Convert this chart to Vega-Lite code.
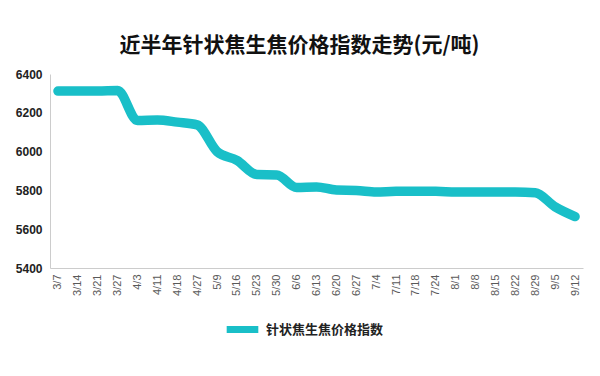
{
  "$schema": "https://vega.github.io/schema/vega-lite/v6.json",
  "autosize": "none",
  "width": 533,
  "height": 194,
  "padding": {"left": 50, "top": 74, "right": 17, "bottom": 108},
  "background": "white",
  "title": {
    "text": "近半年针状焦生焦价格指数走势(元/吨)",
    "font": "Noto Sans CJK SC",
    "fontSize": 21,
    "fontWeight": "bold",
    "color": "#111111",
    "anchor": "middle",
    "dx": -17,
    "offset": 12
  },
  "data": {
    "values": [
      {"date": "3/7", "value": 6312, "series": "针状焦生焦价格指数"},
      {"date": "3/14", "value": 6312, "series": "针状焦生焦价格指数"},
      {"date": "3/21", "value": 6312, "series": "针状焦生焦价格指数"},
      {"date": "3/27", "value": 6315, "series": "针状焦生焦价格指数"},
      {"date": "4/3", "value": 6160, "series": "针状焦生焦价格指数"},
      {"date": "4/11", "value": 6163, "series": "针状焦生焦价格指数"},
      {"date": "4/18", "value": 6152, "series": "针状焦生焦价格指数"},
      {"date": "4/27", "value": 6138, "series": "针状焦生焦价格指数"},
      {"date": "5/9", "value": 6000, "series": "针状焦生焦价格指数"},
      {"date": "5/16", "value": 5955, "series": "针状焦生焦价格指数"},
      {"date": "5/23", "value": 5882, "series": "针状焦生焦价格指数"},
      {"date": "5/30", "value": 5880, "series": "针状焦生焦价格指数"},
      {"date": "6/6", "value": 5815, "series": "针状焦生焦价格指数"},
      {"date": "6/13", "value": 5818, "series": "针状焦生焦价格指数"},
      {"date": "6/20", "value": 5802, "series": "针状焦生焦价格指数"},
      {"date": "6/27", "value": 5800, "series": "针状焦生焦价格指数"},
      {"date": "7/4", "value": 5792, "series": "针状焦生焦价格指数"},
      {"date": "7/11", "value": 5795, "series": "针状焦生焦价格指数"},
      {"date": "7/18", "value": 5795, "series": "针状焦生焦价格指数"},
      {"date": "7/24", "value": 5795, "series": "针状焦生焦价格指数"},
      {"date": "8/1", "value": 5792, "series": "针状焦生焦价格指数"},
      {"date": "8/8", "value": 5792, "series": "针状焦生焦价格指数"},
      {"date": "8/15", "value": 5792, "series": "针状焦生焦价格指数"},
      {"date": "8/22", "value": 5792, "series": "针状焦生焦价格指数"},
      {"date": "8/29", "value": 5788, "series": "针状焦生焦价格指数"},
      {"date": "9/5", "value": 5715, "series": "针状焦生焦价格指数"},
      {"date": "9/12", "value": 5665, "series": "针状焦生焦价格指数"}
    ]
  },
  "mark": {"type": "line", "strokeWidth": 9.5, "interpolate": "monotone", "strokeCap": "round", "strokeJoin": "round"},
  "encoding": {
    "x": {
      "field": "date",
      "type": "ordinal",
      "sort": null,
      "scale": {"type": "point", "padding": 0.4},
      "axis": {
        "title": null,
        "labelAngle": -90,
        "labelFontSize": 11,
        "labelColor": "#595959",
        "labelFont": "Liberation Sans",
        "ticks": false,
        "labelPadding": 6,
        "domainColor": "#cccccc",
        "grid": false
      }
    },
    "y": {
      "field": "value",
      "type": "quantitative",
      "scale": {"domain": [5400, 6400], "nice": false, "zero": false},
      "axis": {
        "title": null,
        "values": [5400, 5600, 5800, 6000, 6200, 6400],
        "format": "d",
        "labelFontSize": 12,
        "labelFont": "Liberation Sans",
        "labelFontWeight": "bold",
        "labelColor": "#222222",
        "ticks": false,
        "labelPadding": 8,
        "domainColor": "#cccccc",
        "grid": false
      }
    },
    "color": {
      "field": "series",
      "type": "nominal",
      "scale": {"range": ["#19BFC8"]},
      "legend": {
        "title": null,
        "orient": "none",
        "legendX": 173,
        "legendY": 236,
        "symbolType": "stroke",
        "symbolStrokeWidth": 7,
        "symbolSize": 1000,
        "labelFont": "Noto Sans CJK SC",
        "labelFontSize": 13,
        "labelFontWeight": "bold",
        "labelColor": "#222222"
      }
    }
  },
  "config": {"view": {"stroke": null}}
}
